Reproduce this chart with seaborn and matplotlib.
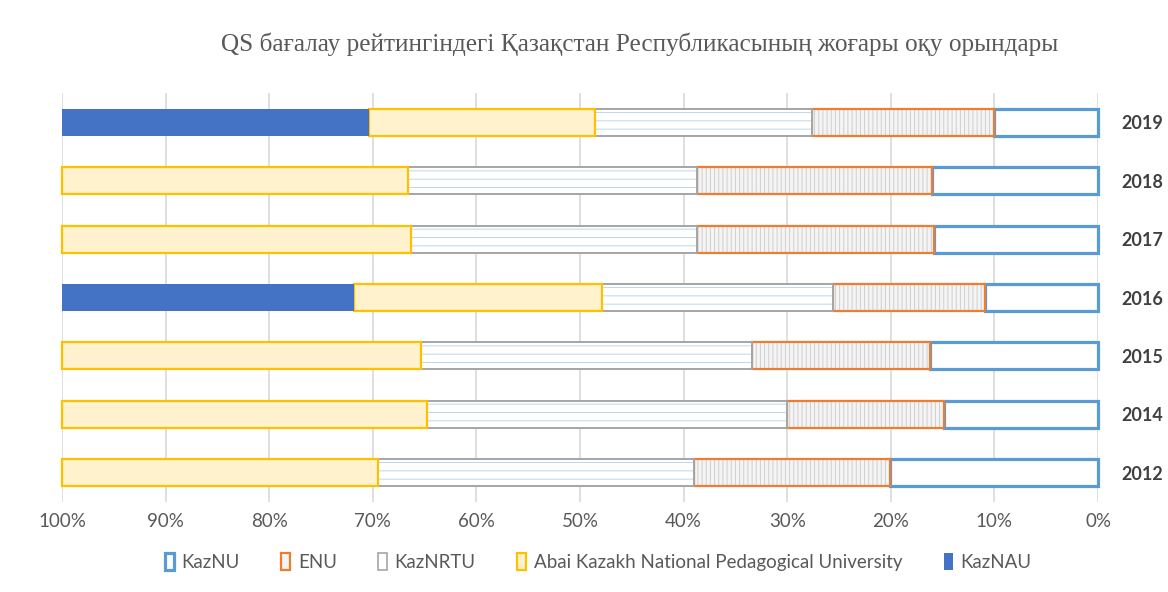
import pandas as pd
import matplotlib.pyplot as plt
from matplotlib.patches import Patch
import seaborn as sns

# QS rating data, share of each bar (percent)
years = ['2012', '2014', '2015', '2016', '2017', '2018', '2019']
kaznu = [20.1, 14.9, 16.2, 10.9, 15.8, 16.0, 10.0]
enu = [18.9, 15.1, 17.2, 14.7, 22.9, 22.7, 17.6]
kaznrtu = [30.5, 34.8, 31.9, 22.3, 27.6, 27.9, 21.0]
abai = [30.5, 35.2, 34.7, 23.9, 33.7, 33.4, 21.8]
kaznau = [0, 0, 0, 28.2, 0, 0, 29.6]

series = ['KazNU', 'ENU', 'KazNRTU', 'Abai Kazakh National Pedagogical University', 'KazNAU']
title = 'QS бағалау рейтингіндегі Қазақстан Республикасының жоғары оқу орындары'

df = pd.DataFrame({'year': years, 'KazNU': kaznu, 'ENU': enu, 'KazNRTU': kaznrtu,
                   'Abai Kazakh National Pedagogical University': abai, 'KazNAU': kaznau})
order = years[::-1]
df = df.set_index('year').loc[order].reset_index()

sns.set_style('white')
plt.rcParams['font.family'] = ['Lato', 'DejaVu Sans']
plt.rcParams['hatch.linewidth'] = 0.7

fig = plt.figure(figsize=(11.68, 5.92), dpi=100)
ax = fig.add_axes([62 / 1168, 1 - 502 / 592, (1098 - 62) / 1168, (502 - 93) / 592])

# style per series: face, hatch colour, hatch, edge, edge width
styles = {
    'KazNU': ('white', None, None, '#5B9BD5', 2.3),
    'ENU': ('#F4F4F4', '#CFCFCF', '||||', '#ED7D31', 1.6),
    'KazNRTU': ('white', '#BDD7EE', '--', '#A5A5A5', 1.4),
    'Abai Kazakh National Pedagogical University': ('#FFF2CC', None, None, '#FFC000', 1.6),
    'KazNAU': ('#4472C4', None, None, 'none', 0),
}

left = pd.Series(0.0, index=df.index)
for name in series:
    face, hcol, hatch, edge, lw = styles[name]
    if hatch:
        sns.barplot(data=df, x=name, y='year', order=order, orient='y', ax=ax,
                    width=0.46, color=face, edgecolor=hcol, hatch=hatch,
                    linewidth=0, left=left.values, errorbar=None)
        face = 'none'
    sns.barplot(data=df, x=name, y='year', order=order, orient='y', ax=ax,
                width=0.46, color=face, facecolor=face, edgecolor=edge,
                linewidth=lw, left=left.values, errorbar=None)
    left = left + df[name]

for p in ax.patches:
    p.set_clip_on(False)

ax.set_xlim(100, 0)
ax.set_xticks(range(0, 101, 10))
ax.set_xticklabels([f'{v}%' for v in range(0, 101, 10)])
ax.xaxis.grid(True, color='#D9D9D9', linewidth=1.2)
ax.set_axisbelow(True)
for s in ax.spines.values():
    s.set_visible(False)
ax.set_xlabel('')
ax.set_ylabel('')
ax.yaxis.tick_right()
ax.tick_params(axis='x', length=0, pad=8, labelsize=13.5, labelcolor='#595959')
ax.tick_params(axis='y', length=0, pad=17, labelsize=13, labelcolor='#404040')
for t in ax.get_yticklabels():
    t.set_fontweight('bold')

fig.text(640 / 1168, 1 - 44 / 592, title, ha='center', va='center', fontsize=18.2,
         color='#595959', family=['Liberation Serif', 'DejaVu Serif'])

handles = [
    Patch(facecolor='white', edgecolor='#5B9BD5', linewidth=2.3),
    Patch(facecolor='#F4F4F4', edgecolor='#ED7D31', linewidth=1.6),
    Patch(facecolor='white', edgecolor='#A5A5A5', linewidth=1.2),
    Patch(facecolor='#FFF2CC', edgecolor='#FFC000', linewidth=1.6),
    Patch(facecolor='#4472C4', edgecolor='#4472C4', linewidth=0),
]
fig.legend(handles, series, loc='center', bbox_to_anchor=(598 / 1168, 1 - 562 / 592),
           ncol=5, frameon=False, fontsize=13.5, labelcolor='#595959',
           handlelength=0.5, handleheight=1.0, handletextpad=0.4, columnspacing=2.2)

plt.savefig('out.png', dpi=100)
